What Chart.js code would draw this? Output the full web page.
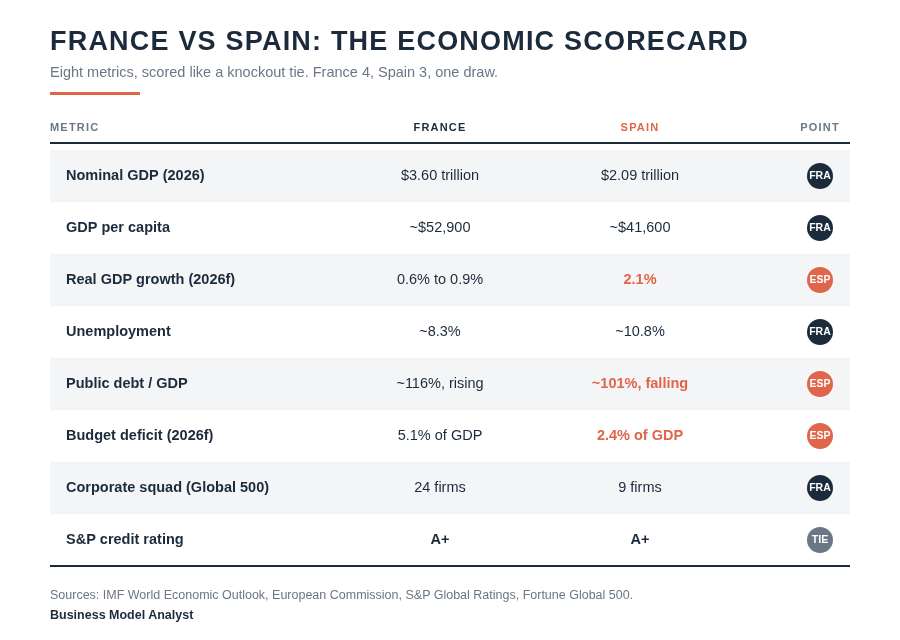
<!DOCTYPE html>
<html><head><meta charset="utf-8">
<script src="https://cdn.jsdelivr.net/npm/chart.js@4"></script>
<style>
html,body{margin:0;padding:0;background:#fff;width:900px;height:640px;overflow:hidden;font-family:"Liberation Sans",Arial,sans-serif}
#wrap{position:absolute;left:0;top:0;width:900px;height:640px}
.t{position:absolute;left:50px;white-space:nowrap}
#title{top:26px;font-size:27px;font-weight:bold;color:#1c2b3c;letter-spacing:1.2px}
#sub{top:64px;font-size:14.5px;color:#6b7785}
#bar{position:absolute;left:50px;top:92px;width:90px;height:3px;background:#e0654a}
#src{top:588px;font-size:12.5px;color:#6b7785}
#brand{top:608px;font-size:12.5px;font-weight:bold;color:#1c2b3c}
</style></head><body>
<div id="wrap"><canvas id="c" width="900" height="640"></canvas></div>
<div class="t" id="title">FRANCE VS SPAIN: THE ECONOMIC SCORECARD</div>
<div class="t" id="sub">Eight metrics, scored like a knockout tie. France 4, Spain 3, one draw.</div>
<div id="bar"></div>
<div class="t" id="src">Sources: IMF World Economic Outlook, European Commission, S&amp;P Global Ratings, Fortune Global 500.</div>
<div class="t" id="brand">Business Model Analyst</div>
<script>
const metrics=["Nominal GDP (2026)","GDP per capita","Real GDP growth (2026f)","Unemployment","Public debt / GDP","Budget deficit (2026f)","Corporate squad (Global 500)","S&P credit rating"];
const franceVals=["$3.60 trillion","~$52,900","0.6% to 0.9%","~8.3%","~116%, rising","5.1% of GDP","24 firms","A+"];
const spainVals=["$2.09 trillion","~$41,600","2.1%","~10.8%","~101%, falling","2.4% of GDP","9 firms","A+"];
const points=["FRA","FRA","ESP","FRA","ESP","ESP","FRA","TIE"];
const headers=["METRIC","FRANCE","SPAIN","POINT"];
const NAVY="#1c2b3c",RED="#e0654a",GRAY="#6b7785";
const colX=[0.08,1.95,2.95,3.85];
const tablePlugin={id:"tbl",afterDatasetsDraw(ch){
 const c=ch.ctx,x=ch.scales.x,y=ch.scales.y,a=ch.chartArea;
 c.save();
 c.font="bold 11px 'Liberation Sans',Arial";c.textBaseline="middle";
 headers.forEach((h,i)=>{
  c.fillStyle=i===0||i===3?GRAY:(i===2?RED:NAVY);
  c.textAlign=i===0?"left":"center";
  const px=i===0?a.left:x.getPixelForValue(colX[i]);
  if(c.letterSpacing!==undefined)c.letterSpacing="1.2px";
  c.fillText(h,px,a.top-22);
 });
 if(c.letterSpacing!==undefined)c.letterSpacing="0px";
 c.fillStyle=NAVY;c.fillRect(a.left,a.top-8,a.right-a.left,2);
 c.fillRect(a.left,a.bottom-1,a.right-a.left,2);
 metrics.forEach((m,i)=>{
  const py=y.getPixelForValue(i);
  c.textAlign="left";c.fillStyle=NAVY;c.font="bold 14.5px 'Liberation Sans',Arial";
  c.fillText(m,x.getPixelForValue(colX[0]),py);
  const p=points[i];
  c.textAlign="center";
  c.font=(p==="TIE"?"bold ":"")+"14.5px 'Liberation Sans',Arial";c.fillStyle=NAVY;
  c.fillText(franceVals[i],x.getPixelForValue(colX[1]),py);
  c.font=(p!=="FRA"?"bold ":"")+"14.5px 'Liberation Sans',Arial";c.fillStyle=p==="ESP"?RED:NAVY;
  c.fillText(spainVals[i],x.getPixelForValue(colX[2]),py);
  const bx=x.getPixelForValue(colX[3]);
  c.beginPath();c.arc(bx,py,13,0,Math.PI*2);
  c.fillStyle=p==="FRA"?NAVY:(p==="ESP"?RED:"#6b7785");c.fill();
  c.fillStyle="#fff";c.font="bold 10.5px 'Liberation Sans',Arial";
  c.fillText(p,bx,py+0.5);
 });
 c.restore();
}};
new Chart(document.getElementById("c"),{
 type:"bar",
 data:{labels:metrics,datasets:[{data:metrics.map((m,i)=>i%2===0?[0,4]:null),backgroundColor:"#f4f5f7",barPercentage:1,categoryPercentage:1,borderWidth:0}]},
 options:{indexAxis:"y",responsive:false,animation:false,
  layout:{padding:{left:50,right:50,top:150,bottom:74}},
  plugins:{legend:{display:false},tooltip:{enabled:false}},
  scales:{x:{type:"linear",min:0,max:4,display:false},y:{type:"category",display:false,offset:true}}},
 plugins:[tablePlugin]
});
</script></body></html>
